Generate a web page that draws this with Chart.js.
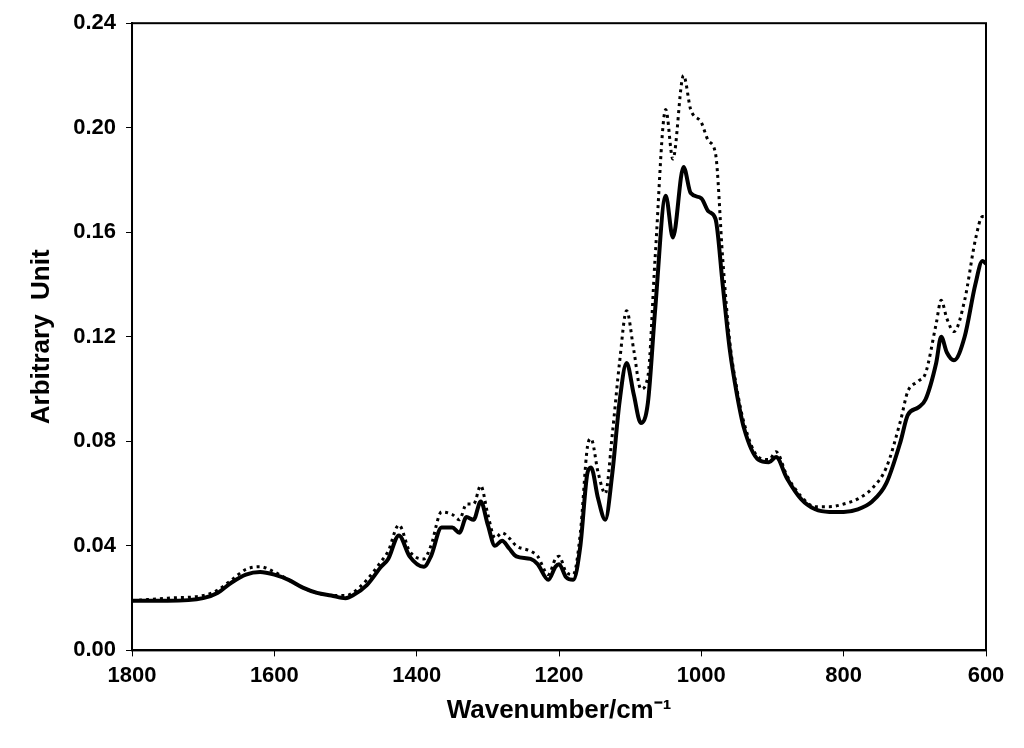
<!DOCTYPE html>
<html><head><meta charset="utf-8">
<script src="https://cdn.jsdelivr.net/npm/chart.js@4/dist/chart.umd.min.js"></script>
<style>html,body{margin:0;background:#fff}#w{width:1024px;height:748px}</style>
</head><body><div id="w"><canvas id="c"></canvas></div>
<script>
const wavenumbers=[1800,1750,1700,1680,1660,1640,1620,1600,1580,1560,1540,1520,1500,1490,1470,1450,1440,1425,1410,1390,1380,1365,1350,1340,1330,1320,1310,1300,1290,1280,1270,1260,1240,1230,1215,1205,1200,1190,1180,1170,1160,1155,1145,1135,1125,1115,1105,1095,1085,1075,1065,1050,1040,1025,1015,1000,990,980,970,960,950,940,920,905,895,880,860,840,820,800,780,760,740,720,710,695,685,670,663,655,645,630,615,605,600];
const solid=[.019,.019,.020,.022,.026,.029,.030,.029,.027,.024,.022,.021,.020,.021,.025,.032,.035,.044,.036,.032,.036,.047,.047,.045,.051,.050,.057,.048,.040,.042,.039,.036,.035,.033,.027,.032,.033,.028,.027,.040,.068,.070,.058,.050,.068,.095,.110,.098,.087,.095,.130,.174,.158,.185,.175,.173,.168,.165,.140,.115,.098,.085,.073,.072,.074,.066,.058,.054,.053,.053,.054,.057,.064,.080,.090,.093,.096,.110,.120,.114,.111,.120,.140,.149,.148];
const dotted=[.019,.020,.021,.023,.027,.031,.032,.030,.027,.024,.022,.021,.021,.022,.027,.034,.038,.048,.038,.035,.040,.053,.052,.050,.056,.056,.063,.052,.043,.045,.043,.040,.038,.036,.029,.035,.036,.030,.029,.045,.078,.081,.068,.060,.083,.110,.130,.115,.100,.105,.150,.207,.188,.220,.207,.202,.195,.190,.150,.118,.100,.087,.074,.073,.076,.067,.059,.055,.055,.056,.058,.062,.070,.088,.099,.103,.106,.125,.134,.127,.122,.134,.157,.166,.166];
const xTicks=[1800,1600,1400,1200,1000,800,600];
const yTicks=[0,0.04,0.08,0.12,0.16,0.20,0.24];
const pts=a=>wavenumbers.map((w,i)=>({x:w,y:a[i]}));
const font={family:'"Liberation Sans", Arial, sans-serif',size:22,weight:'bold'};
const frame={id:'frame',afterDraw(ch){const a=ch.chartArea,c=ch.ctx;c.save();c.strokeStyle='#000';c.lineWidth=2;c.strokeRect(a.left,a.top,a.right-a.left,a.bottom-a.top);c.restore();}};
new Chart(document.getElementById('c'),{type:'scatter',
data:{datasets:[
{data:pts(dotted),showLine:true,borderColor:'#000',borderWidth:3,borderDash:[3,4],pointRadius:0,cubicInterpolationMode:'monotone'},
{data:pts(solid),showLine:true,borderColor:'#000',borderWidth:4,pointRadius:0,cubicInterpolationMode:'monotone'}]},
options:{responsive:true,maintainAspectRatio:false,animation:false,
layout:{padding:{top:14,right:38,left:22,bottom:18}},
plugins:{legend:{display:false},tooltip:{enabled:false}},
scales:{
x:{type:'linear',reverse:true,min:600,max:1800,afterBuildTicks(s){s.ticks=xTicks.map(v=>({value:v}));},
 ticks:{color:'#000',font,maxRotation:0,padding:6,callback:v=>String(v)},grid:{drawOnChartArea:false,color:'#000',tickLength:6},border:{color:'#000',width:2},
 title:{display:true,text:'Wavenumber/cm⁻¹',color:'#000',font:{...font,size:26},padding:{top:0}}},
y:{min:0,max:0.24,afterBuildTicks(s){s.ticks=yTicks.map(v=>({value:v}));},
 ticks:{color:'#000',font,padding:10,callback:v=>v.toFixed(2)},grid:{drawOnChartArea:false,color:'#000',tickLength:6},border:{color:'#000',width:2},
 title:{display:true,text:'Arbitrary  Unit',color:'#000',font:{...font,size:26},padding:{bottom:6}}}}},
plugins:[frame]});
</script></body></html>
